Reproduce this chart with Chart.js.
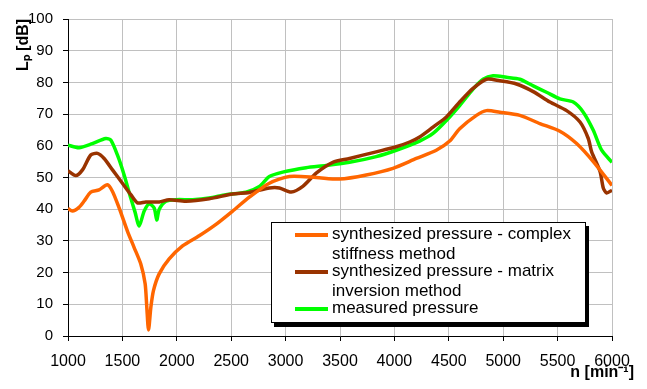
<!DOCTYPE html>
<html>
<head>
<meta charset="utf-8">
<script src="https://cdn.jsdelivr.net/npm/chart.js@4.4.1/dist/chart.umd.min.js"></script>
<style>
  body { margin:0; background:#fff; }
  #wrap { position:relative; width:647px; height:389px; }
  #legend { position:absolute; left:271px; top:222px; width:315px; height:101px; background:#fff;
    border:1px solid #000; box-shadow:3px 4px 0 #000; font:17px "Liberation Sans", Arial, sans-serif; color:#000; padding-top:1px; box-sizing:border-box; }
  .item { display:flex; align-items:flex-start; margin-left:23px; }
  .item + .item { margin-top:-3px; }
  .swatch { width:33px; height:4px; margin-top:9px; flex:none; }
  .lbl { width:255px; line-height:20px; margin-left:4px; white-space:normal; }
</style>
</head>
<body>
<div id="wrap"><canvas id="c"></canvas><div id="legend"></div></div>
<script>
// engine speed [min^-1] and sound pressure level [dB]
const complexN = [1000,1040,1101,1147,1209,1285,1362,1409,1470,1546,1608,1669,1709,1724,1740,1762,1786,1838,1930,2053,2206,2360,2513,2667,2851,3035,3281,3495,3741,3987,4201,4385,4508,4600,4754,4846,4969,5153,5337,5521,5675,5828,6000];
const complexDb = [40.2,39.4,40.6,42.5,45.4,46.1,47.7,45.6,40.4,33.1,27.9,22.7,16.5,9.2,1.9,9.2,14.4,19.6,24.3,28.4,31.6,35.2,39.4,43.8,48.2,50.3,50.0,49.5,50.8,52.9,56.0,58.6,61.5,65.4,69.6,71.1,70.6,69.6,67.0,64.6,60.7,55.0,47.5];

const matrixN = [1000,1071,1133,1209,1271,1332,1409,1500,1577,1638,1715,1838,1930,2084,2298,2513,2667,2851,2943,3051,3158,3281,3434,3587,3833,4017,4140,4232,4355,4478,4600,4723,4846,4969,5122,5276,5429,5583,5706,5782,5813,5890,5920,5951,6000];
const matrixDb = [52.1,50.6,52.4,57.1,57.6,56.0,52.4,48.2,44.6,42.0,42.3,42.3,43.0,42.5,43.3,44.8,45.3,46.7,46.7,45.4,47.2,51.4,54.8,56.0,58.1,59.7,61.2,62.8,65.9,69.1,73.8,78.1,81.0,80.5,79.5,77.1,73.8,71.1,67.5,62.3,58.1,51.9,46.7,45.1,46.0];

const measN = [1000,1101,1224,1347,1393,1454,1516,1577,1617,1654,1700,1746,1792,1816,1838,1900,1992,2145,2298,2452,2636,2759,2851,2973,3188,3372,3587,3833,4017,4232,4355,4478,4600,4723,4815,4907,5030,5153,5276,5398,5521,5644,5736,5828,5905,6000];
const measDb = [60.2,59.4,60.7,62.3,61.8,57.1,50.8,43.5,39.0,34.7,39.4,41.7,40.4,36.6,39.9,42.5,43.0,43.0,43.5,44.6,45.4,47.2,50.3,51.7,53.1,53.8,54.8,56.6,58.6,61.5,63.9,68.0,72.7,77.9,81.0,82.1,81.6,81.0,78.9,76.9,74.8,73.8,70.6,64.9,58.6,54.8];

const xTicks = [1000,1500,2000,2500,3000,3500,4000,4500,5000,5500,6000];
const yTicks = [0,10,20,30,40,50,60,70,80,90,100];

const pts = (xs, ys) => xs.map((x, i) => ({ x, y: ys[i] }));
const fam = '"Liberation Sans", Arial, sans-serif';

const axisTitles = {
  id: 'axisTitles',
  afterDraw(chart) {
    const ctx = chart.ctx;
    ctx.save();
    ctx.fillStyle = '#000';
    ctx.font = 'bold 16px ' + fam;
    ctx.textBaseline = 'middle';
    ctx.translate(24, 45);
    ctx.rotate(-Math.PI / 2);
    ctx.textAlign = 'center';
    ctx.fillText('Lₚ [dB]', 0, 0);
    ctx.restore();
    ctx.save();
    ctx.fillStyle = '#000';
    ctx.font = 'bold 16px ' + fam;
    ctx.textAlign = 'right';
    ctx.textBaseline = 'middle';
    ctx.fillText('n [min⁻¹]', 634, 373);
    ctx.restore();
  }
};

const chart = new Chart(document.getElementById('c'), {
  type: 'line',
  data: {
    datasets: [
      { label: 'synthesized pressure - complex stiffness method', data: pts(complexN, complexDb), borderColor: '#FF6600' },
      { label: 'synthesized pressure - matrix inversion method', data: pts(matrixN, matrixDb), borderColor: '#993300' },
      { label: 'measured pressure', data: pts(measN, measDb), borderColor: '#00FF00' }
    ].map(d => ({ ...d, borderWidth: 3.5, pointRadius: 0, tension: 0.25, fill: false }))
  },
  options: {
    responsive: true,
    maintainAspectRatio: false,
    animation: false,
    layout: { padding: { top: 16, right: 35, left: 0, bottom: 0 } },
    plugins: { legend: { display: false }, tooltip: { enabled: false } },
    scales: {
      x: {
        type: 'linear', min: 1000, max: 6000,
        afterFit: s => { s.height = 53; },
        afterBuildTicks: s => { s.ticks = xTicks.map(v => ({ value: v })); },
        ticks: { font: { family: fam, size: 16 }, color: '#000', padding: 11, maxRotation: 0, callback: v => String(v) },
        grid: { color: '#c0c0c0', tickColor: '#000', tickLength: 5 },
        border: { color: '#000', width: 1 }
      },
      y: {
        min: 0, max: 100,
        afterFit: s => { s.width = 68; },
        afterBuildTicks: s => { s.ticks = yTicks.map(v => ({ value: v })); },
        ticks: { font: { family: fam, size: 15 }, color: '#000', padding: 10, callback: v => String(v) },
        grid: { color: '#c0c0c0', tickColor: '#000', tickLength: 5 },
        border: { color: '#000', width: 1 }
      }
    }
  },
  plugins: [axisTitles]
});

// legend box built from the datasets
document.getElementById('legend').innerHTML = chart.data.datasets.map(d =>
  `<div class="item"><span class="swatch" style="background:${d.borderColor}"></span><div class="lbl">${d.label}</div></div>`
).join('');
</script>
</body>
</html>
